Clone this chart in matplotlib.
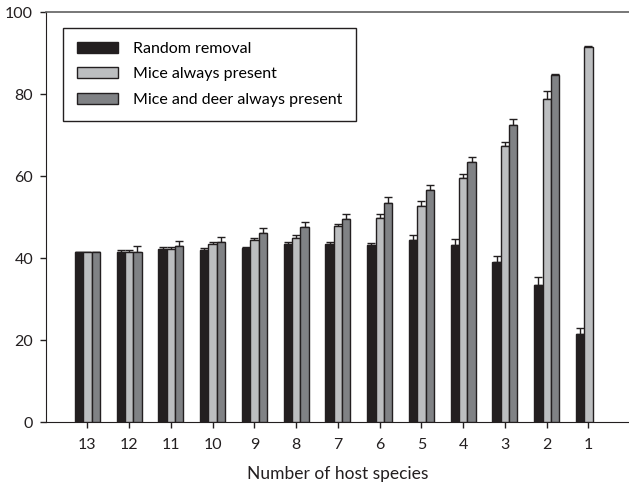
import matplotlib
matplotlib.use("Agg")
import matplotlib.pyplot as plt
import numpy as np

categories = ["13", "12", "11", "10", "9", "8", "7", "6", "5", "4", "3", "2", "1"]
random_removal = [41.5, 41.5, 42.1, 42.0, 42.4, 43.4, 43.4, 43.2, 44.3, 43.2, 39.1, 33.3, 21.4]
random_err     = [0.0, 0.5, 0.5, 0.5, 0.4, 0.4, 0.5, 0.5, 1.4, 1.4, 1.4, 2.0, 1.6]
mice_present   = [41.5, 41.5, 42.2, 43.4, 44.3, 45.0, 47.8, 49.7, 52.8, 59.4, 67.2, 78.9, 91.5]
mice_err       = [0.0, 0.5, 0.5, 0.5, 0.5, 0.6, 0.6, 1.1, 1.0, 1.2, 1.1, 1.8, 0.2]
mice_deer      = [41.5, 41.5, 42.9, 44.0, 46.0, 47.6, 49.4, 53.5, 56.6, 63.3, 72.5, 84.6, np.nan]
mice_deer_err  = [0.0, 1.4, 1.2, 1.2, 1.2, 1.3, 1.3, 1.3, 1.3, 1.3, 1.3, 0.2, np.nan]
series_names = ["Random removal", "Mice always present", "Mice and deer always present"]

plt.rcParams['font.family'] = ['Lato', 'DejaVu Sans']

fig = plt.figure(figsize=(6.29, 4.84), dpi=100)
ax = fig.add_axes([46/629, 62/484, 1 - 46/629, 410/484])

x = np.arange(len(categories))
w = 0.2
edge = '#231f20'
colors = ['#231f20', '#bcbec0', '#808285']
vals = [random_removal, mice_present, mice_deer]
errs = [random_err, mice_err, mice_deer_err]
for i, (v, e, c, n) in enumerate(zip(vals, errs, colors, series_names)):
    v = np.array(v, dtype=float)
    e = np.array(e, dtype=float)
    pos = x + (i - 1) * w
    ax.errorbar(pos, v, yerr=[np.zeros_like(e), e], fmt='none', ecolor=edge,
                elinewidth=1.0, capsize=3.2, capthick=1.0, zorder=2)
    ax.bar(pos, v, width=w, color=c, edgecolor=edge, linewidth=1.0, label=n, zorder=3)

ax.set_xlim(-0.99, 12.97)
ax.set_ylim(0, 100)
ax.set_xticks(x)
ax.set_xticklabels(categories)
ax.set_yticks([0, 20, 40, 60, 80, 100])
ax.tick_params(axis='both', direction='out', length=4.3, width=1, labelsize=11.5, colors='#231f20')
ax.tick_params(axis='x', pad=7.5)
ax.tick_params(axis='y', pad=5)
ax.spines['right'].set_visible(False)
ax.spines['top'].set_color('#606060')
ax.spines['top'].set_linewidth(1.2)
ax.spines['left'].set_color('#231f20')
ax.spines['bottom'].set_color('#231f20')
ax.set_xlabel("Number of host species", fontsize=12.5, color='#231f20', labelpad=9.5)

leg = ax.legend(loc='upper left', bbox_to_anchor=(17/583, 1 - 16/410), fancybox=False,
                edgecolor='#231f20', framealpha=1, fontsize=11.5, handlelength=2.6,
                handleheight=0.7, labelspacing=0.72, borderpad=0.85, handletextpad=0.95,
                borderaxespad=0)
leg.get_frame().set_linewidth(1.0)

fig.savefig("out.png", dpi=100)
